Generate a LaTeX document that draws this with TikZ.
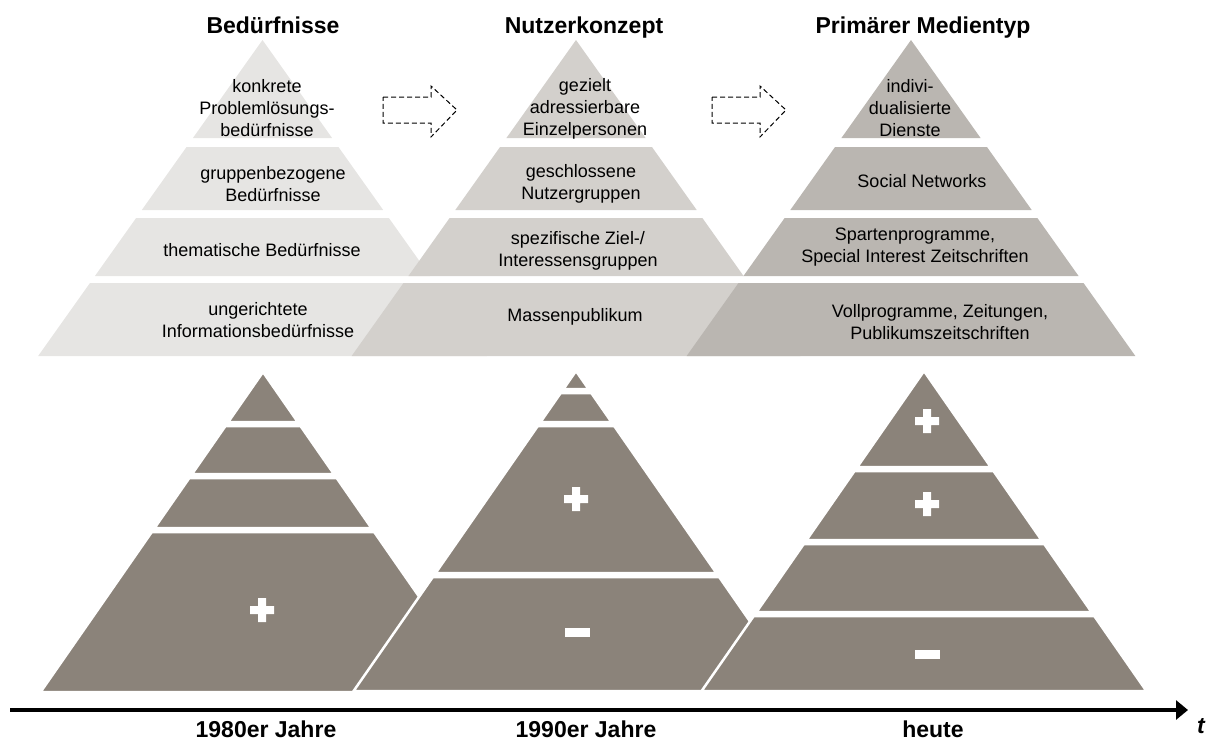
\documentclass[tikz,border=0pt]{standalone}
\usepackage{fontspec}
\setmainfont{Liberation Sans}
\usetikzlibrary{arrows.meta,positioning}
\definecolor{needs}{RGB}{230,229,227}
\definecolor{users}{RGB}{211,208,204}
\definecolor{media}{RGB}{186,182,177}
\definecolor{taupe}{RGB}{139,131,122}

\begin{document}
\begin{tikzpicture}[x=1pt,y=-1pt,
  lbl/.style={align=center,inner sep=0pt,font=\fontsize{18}{22}\selectfont},
  head/.style={anchor=base,inner sep=0pt,font=\fontsize{23}{26}\selectfont\bfseries},
  band/.style={fill=taupe,draw=white,line width=2.5pt},
  blockarrow/.style={draw,dashed,dash pattern=on 5pt off 3pt,line width=1pt},
  plus/.pic={\fill[white] (-12,-4) rectangle (12,4) (-4,-12) rectangle (4,12);},
  minus/.pic={\fill[white] (-12.5,-4.5) rectangle (12.5,4.5);}]
\useasboundingbox (0,0) rectangle (1210,740);
% upper pyramids
\foreach \cx/\col in {262.5/needs,576/users,911/media}
  \foreach \ya/\yb in {40/138,147/210,218/276,283/356}
    \fill[\col] ({\cx-.71*(\ya-40)},\ya) -- ({\cx+.71*(\ya-40)},\ya) -- ({\cx+.71*(\yb-40)},\yb) -- ({\cx-.71*(\yb-40)},\yb) -- cycle;
\node[head] (h1) at (273,33) {Bedürfnisse};
\node[head] (h2) at (584,33) {Nutzerkonzept};
\node[head] (h3) at (923,33) {Primärer Medientyp};
\node[lbl] (b1) at (267,108) {konkrete\\Problemlösungs-\\bedürfnisse};
\node[lbl] (b2) at (273,184) {gruppenbezogene\\Bedürfnisse};
\node[lbl] (b3) at (262,250) {thematische Bedürfnisse};
\node[lbl] (b4) at (258,320) {ungerichtete\\Informationsbedürfnisse};
\node[lbl] (n1) at (585,109) {gezielt\\adressierbare\\Einzelpersonen};
\node[lbl] (n2) at (581,184) {geschlossene\\Nutzergruppen};
\node[lbl] (n3) at (578,251) {spezifische Ziel-/\\Interessensgruppen};
\node[lbl] (n4) at (575,317) {Massenpublikum};
\node[lbl] (m1) at (910,108) {indivi-\\dualisierte\\Dienste};
\node[lbl] (m2) at (922,181) {Social Networks};
\node[lbl] (m3) at (915,247) {Spartenprogramme,\\Special Interest Zeitschriften};
\node[lbl] (m4) at (940,322) {Vollprogramme, Zeitungen,\\Publikumszeitschriften};
% dashed block arrows
\foreach \dx in {0,329}
  \draw[blockarrow,xshift=\dx] (383,97) -- (431,97) -- (431,86) -- (457,110) -- (431,137) -- (431,123) -- (383,123) -- cycle;
% lower pyramids
\foreach \ya/\yb in {372/422,426/474,478/528,532/692}
  \path[band] ({263-.695*(\ya-372)},\ya) -- ({263+.695*(\ya-372)},\ya) -- ({263+.695*(\yb-372)},\yb) -- ({263-.695*(\yb-372)},\yb) -- cycle;
\foreach \ya/\yb in {371/389,393/422,426/573,577/691}
  \path[band] ({576-.695*(\ya-371)},\ya) -- ({576+.695*(\ya-371)},\ya) -- ({576+.695*(\yb-371)},\yb) -- ({576-.695*(\yb-371)},\yb) -- cycle;
\foreach \ya/\yb in {371/467,471/540,544/612,616/691}
  \path[band] ({924-.695*(\ya-371)},\ya) -- ({924+.695*(\ya-371)},\ya) -- ({924+.695*(\yb-371)},\yb) -- ({924-.695*(\yb-371)},\yb) -- cycle;
\pic at (262,610) {plus};
\pic at (576,499) {plus};
\pic at (577,632) {minus};
\pic at (927,421) {plus};
\pic at (927,504) {plus};
\pic at (927,654) {minus};
% time axis
\coordinate (t0) at (10,710);
\coordinate (t1) at (1188,710);
\draw[line width=3.5pt,-{Triangle[length=12pt,width=19pt]}] (t0) -- (t1);
\node[anchor=base,inner sep=0pt,font=\fontsize{23}{26}\selectfont\bfseries\itshape] (t) at (1201,733) {t};
\node[head] (y1) at (266,737) {1980er Jahre};
\node[head] (y2) at (586,737) {1990er Jahre};
\node[head] (y3) at (933,737) {heute};
\end{tikzpicture}
\end{document}
